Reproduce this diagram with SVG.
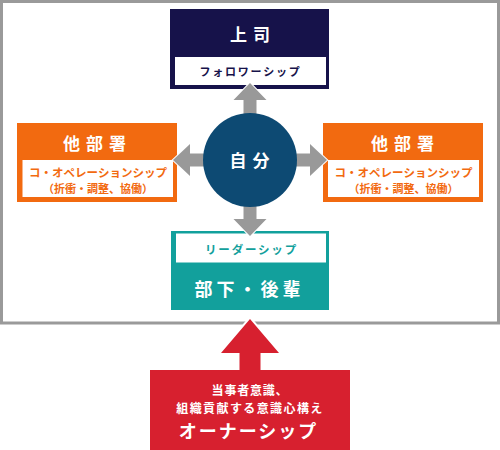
<svg xmlns="http://www.w3.org/2000/svg" width="500" height="450" viewBox="0 0 500 450">
<style>
text{font-family:"Noto Sans CJK JP","Noto Sans",sans-serif;font-weight:bold;text-anchor:middle;dominant-baseline:central}
.t{font-size:17px;fill:#fff;letter-spacing:6px}
.s{font-size:11px}
.arr{fill:#999;stroke:#fff;stroke-width:2;paint-order:stroke;stroke-linejoin:miter}
</style>
<rect x="0" y="0" width="500" height="450" fill="#fff"/>
<rect x="1.5" y="1.5" width="497" height="321.5" fill="none" stroke="#9a9a9a" stroke-width="3"/>
<g id="boss">
<rect x="170" y="9" width="159" height="80" fill="#16124a"/>
<rect x="175" y="57" width="151" height="28" fill="#fff"/>
<text class="t" x="253" y="33">上司</text>
<text class="s" x="250.5" y="71" fill="#16124a" style="letter-spacing:1.8px">フォロワーシップ</text>
</g>
<g id="dept-left">
<rect x="17" y="123" width="160" height="79" fill="#f26a10"/>
<rect x="22.5" y="160" width="150.5" height="37" fill="#fff"/>
<text class="t" x="97.5" y="142">他部署</text>
<text class="s" x="98" y="171.5" fill="#f26a10" style="font-size:11.5px">コ・オペレーションシップ</text>
<text class="s" x="98" y="188" fill="#f26a10">（折衝・調整、協働）</text>
</g>
<g id="dept-right">
<rect x="323" y="123" width="160" height="79" fill="#f26a10"/>
<rect x="328" y="160" width="151" height="37" fill="#fff"/>
<text class="t" x="405.5" y="142">他部署</text>
<text class="s" x="403.5" y="171.5" fill="#f26a10" style="font-size:11.5px">コ・オペレーションシップ</text>
<text class="s" x="403.5" y="188" fill="#f26a10">（折衝・調整、協働）</text>
</g>
<g id="subordinate">
<rect x="171" y="231" width="158" height="79" fill="#12a09c"/>
<rect x="176" y="233.5" width="150" height="29" fill="#fff"/>
<text class="s" x="251.5" y="249" fill="#12a09c" style="font-size:11.5px;letter-spacing:1.8px">リーダーシップ</text>
<text class="t" x="249.5" y="288" style="letter-spacing:4px;font-size:18px">部下・後輩</text>
</g>
<g id="connectors">
<polygon class="arr" points="243.5,125 243.5,100 233.5,100 250,83 266.5,100 256.5,100 256.5,125"/>
<polygon class="arr" points="243.5,195 243.5,219 233.5,219 250,236 266.5,219 256.5,219 256.5,195"/>
<polygon class="arr" points="215,153.5 190,153.5 190,144 173,160 190,176 190,166.5 215,166.5"/>
<polygon class="arr" points="285,153.5 310,153.5 310,144 327,160 310,176 310,166.5 285,166.5"/>
</g>
<g id="self">
<circle cx="250" cy="160" r="47" fill="#0d4a73"/>
<text class="t" x="252.5" y="159">自分</text>
</g>
<g id="ownership">
<polygon points="250,319 221,353 239.5,353 239.5,372 260.5,372 260.5,353 279,353" fill="#d7202f" stroke="#fff" stroke-width="4" paint-order="stroke"/>
<rect x="150" y="370" width="200" height="80" fill="#d7202f"/>
<text x="250" y="389" fill="#fff" style="font-size:12px;letter-spacing:0.8px">当事者意識、</text>
<text x="250" y="407" fill="#fff" style="font-size:12px;letter-spacing:1.4px">組織貢献する意識心構え</text>
<text x="248.5" y="430" fill="#fff" style="font-size:18px;letter-spacing:2px">オーナーシップ</text>
</g>
</svg>
